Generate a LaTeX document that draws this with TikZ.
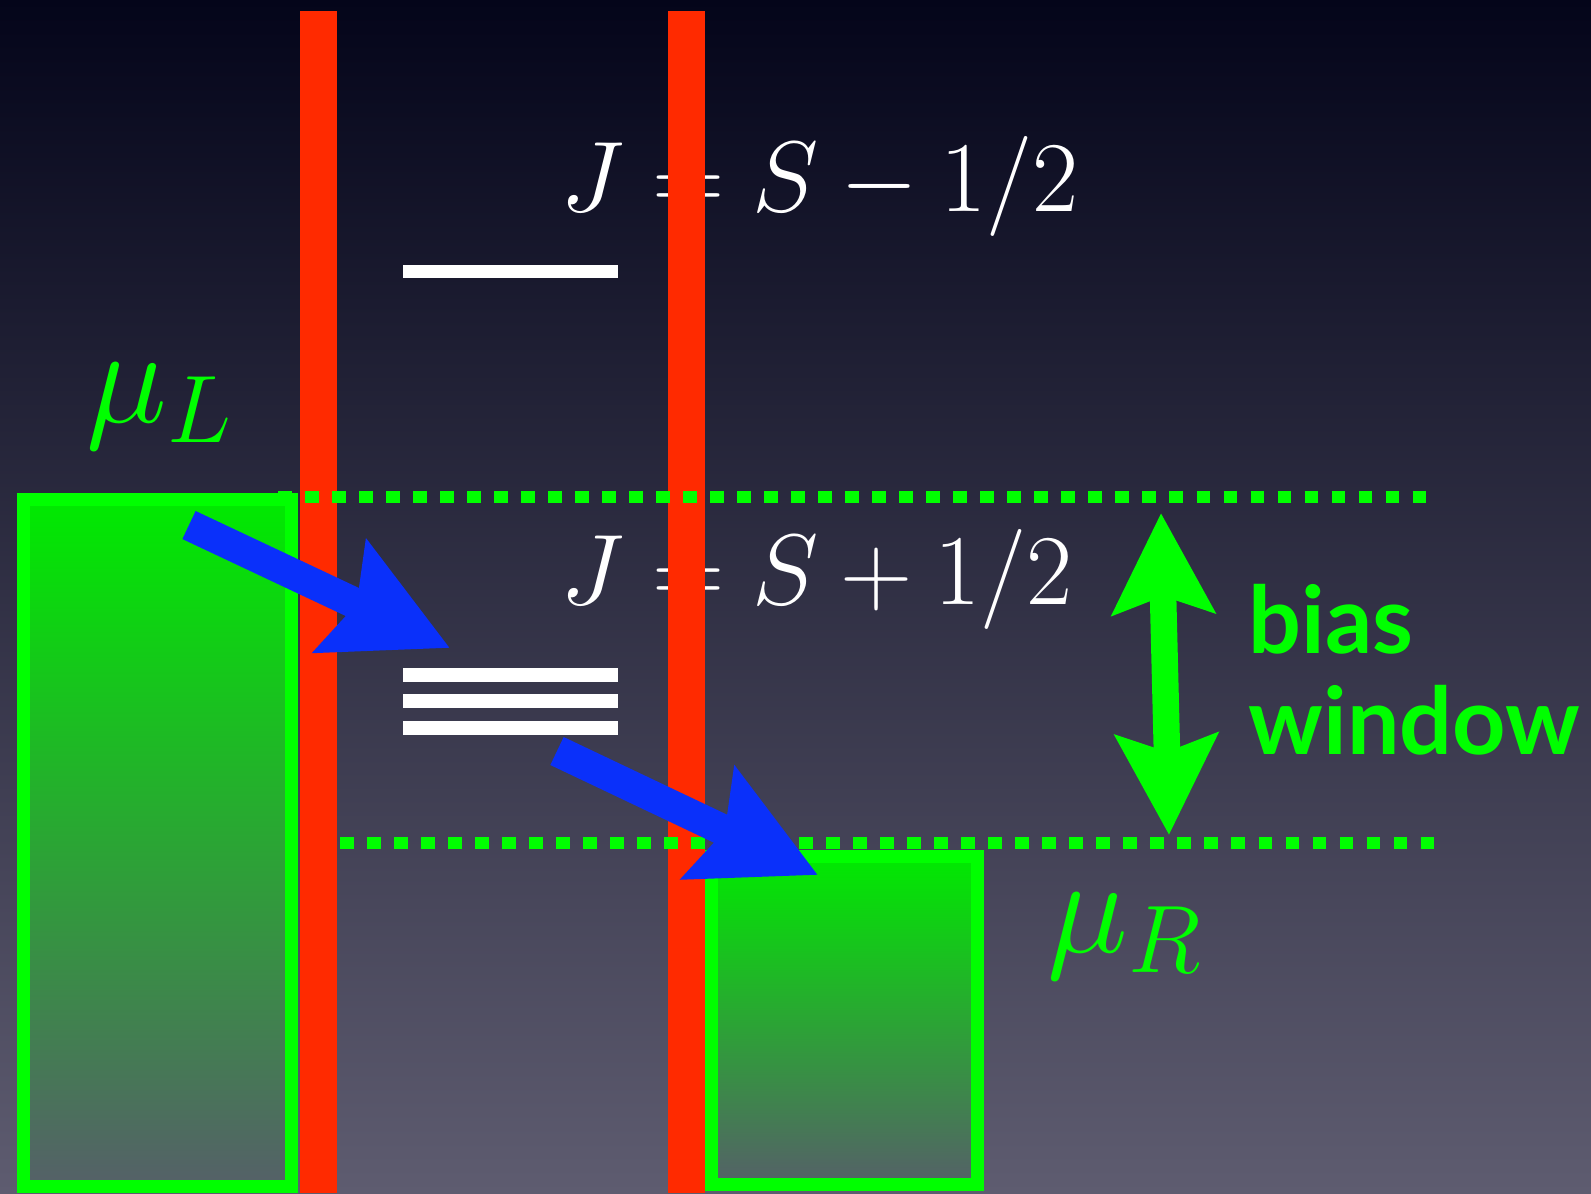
\RequirePackage{fix-cm}
\documentclass[tikz,border=0pt]{standalone}
\usepackage{fontspec}
\usepackage{tikz}
\usetikzlibrary{arrows.meta,positioning}
\newfontfamily\biasfont{Lato}
\definecolor{bgtop}{HTML}{04051A}
\definecolor{bgmid}{HTML}{2C2D42}
\definecolor{bgbot}{HTML}{5E5C70}
\definecolor{redb}{HTML}{FF2A00}
\definecolor{greenx}{HTML}{00FF00}
\definecolor{greent}{HTML}{00EA00}
\definecolor{greenm}{HTML}{00BE2C}
\definecolor{greenb}{HTML}{556068}
\definecolor{bluex}{HTML}{0A30FA}
\tikzset{
  bar/.style={fill=redb},
  lead/.style={draw=greenx,line width=0.13cm,top color=greent,middle color=greenm,bottom color=greenb},
  dt/.style={greenx,line width=0.125cm,dash pattern=on 0.135cm off 0.135cm},
  lv/.style={fill=white},
  fl/.style={bluex,line width=0.31cm,-{Stealth[length=1.2cm,width=1.21cm,inset=0.17cm]}},
  bw/.style={greenx,line width=0.265cm,{Stealth[length=1.0cm,width=1.01cm,inset=0.17cm]}-{Stealth[length=1.0cm,width=1.01cm,inset=0.17cm]}},
  lab/.style={white,inner sep=0pt,anchor=base west,font=\fontsize{28.5}{33}\selectfont},
  mu/.style={greenx,inner sep=0pt,anchor=base west,font=\fontsize{39}{45}\selectfont},
  bs/.style={greenx,inner sep=0pt,anchor=base west,font=\biasfont\bfseries\fontsize{26.5}{31}\selectfont}
}

\begin{document}
\begin{tikzpicture}[x=0.01cm,y=-0.01cm]
\useasboundingbox (0,0) rectangle (1591,1193);
\shade[top color=bgtop,middle color=bgmid,bottom color=bgbot] (0,0) rectangle (1591,1193);
% spin states
\node[lab] (jlow) at (560,211) {$J = S - 1/2$};
\node[lab] (jhigh) at (560,604) {$J = S + 1/2$};
% tunnel barriers
\fill[bar] (300,11) rectangle (337,1193);
\fill[bar] (668,11) rectangle (705,1193);
% leads
\draw[lead] (23.5,499.5) rectangle (291.5,1186.5);
\draw[lead] (711.5,856.5) rectangle (977.5,1184.5);
\draw[dt] (278,497) -- (1439,497);
\draw[dt] (340,843) -- (1447,843);
% levels
\fill[lv] (403,265) rectangle (618,278);
\foreach \yy in {668,694,721}{\fill[lv] (403,\yy) rectangle (618,\yy+14);}
\node[mu] (muL) at (86,422) {$\mu_L$};
\node[mu] (muR) at (1047,952) {$\mu_R$};
\node[bs] (bias) at (1248,653) {bias};
\node[bs] (window) at (1248,754) {window};
% transport
\coordinate (t1) at (189,525);
\coordinate (h1) at (450,648);
\coordinate (t2) at (557,751);
\coordinate (h2) at (818,875);
\draw[fl] (t1) -- (h1);
\draw[fl] (t2) -- (h2);
\coordinate (wtop) at (1161,513);
\coordinate (wbot) at (1169,835);
\draw[bw] (wtop) -- (wbot);
\end{tikzpicture}
\end{document}
